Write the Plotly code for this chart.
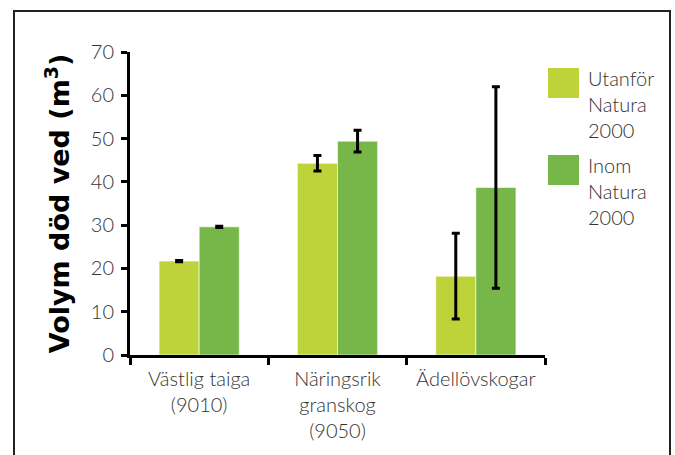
import plotly.graph_objects as go

categories = ["Västlig taiga<br>(9010)", "Näringsrik<br>granskog<br>(9050)", "Ädellövskogar"]
series_names = ["Utanför<br>Natura<br>2000", "Inom<br>Natura<br>2000"]
utanfor = [21.7, 44.3, 18.2]
utanfor_err = [0.15, 1.8, 9.9]
inom = [29.6, 49.4, 38.7]
inom_err = [0.15, 2.5, 23.3]
colors = ["#BED339", "#77B749"]
y_ticks = [0, 10, 20, 30, 40, 50, 60, 70]

fig = go.Figure()
for name, vals, errs, col in [(series_names[0], utanfor, utanfor_err, colors[0]),
                               (series_names[1], inom, inom_err, colors[1])]:
    fig.add_trace(go.Bar(
        x=categories, y=vals, name=name,
        marker=dict(color=col, line=dict(color="rgba(255,255,255,0.6)", width=1)),
        error_y=dict(type="data", array=errs, color="black", thickness=3, width=4),
        showlegend=False,
    ))

tick_font = dict(family="Lato, 'Open Sans', sans-serif", size=20, color="#333333", weight=300)

fig.update_layout(
    width=675, height=455,
    margin=dict(l=130, r=130, t=52, b=100),
    paper_bgcolor="white", plot_bgcolor="white",
    barmode="group", bargap=0.42, bargroupgap=0,
    xaxis=dict(
        type="category", tickson="boundaries", ticks="outside", ticklen=7,
        tickwidth=3, tickcolor="black", showline=True, linecolor="black",
        linewidth=3, showgrid=False, tickfont=tick_font, ticklabelstandoff=4,
        range=[-0.5, 2.5],
    ),
    yaxis=dict(
        range=[0, 70], tickvals=y_ticks, ticks="outside", ticklen=6,
        tickwidth=3, tickcolor="black", showline=True, linecolor="black",
        linewidth=3, showgrid=False, zeroline=False, ticklabelstandoff=3,
        tickfont=dict(tick_font, size=20),
        title=dict(text="Volym död ved (m<sup>3</sup>)",
                   font=dict(family="DejaVu Sans, sans-serif",
                             size=27, color="black", weight="bold"),
                   standoff=14),
    ),
)

# legend drawn manually with large swatches
leg_y = [(68, 98), (155, 185)]
for i, (name, col) in enumerate(zip(series_names, colors)):
    y0, y1 = leg_y[i]
    fig.add_shape(type="rect", xref="paper", yref="paper",
                  x0=(548 - 130) / 415, x1=(579 - 130) / 415,
                  y0=1 - (y1 - 52) / 303, y1=1 - (y0 - 52) / 303,
                  fillcolor=col, line=dict(width=0))
    fig.add_annotation(xref="paper", yref="paper", x=(586 - 130) / 415,
                       y=1 - (y0 - 4 - 52) / 303, xanchor="left", yanchor="top",
                       text=name, showarrow=False, align="left",
                       font=dict(tick_font, size=20))

# outer frame
fig.add_shape(type="rect", xref="paper", yref="paper",
              x0=(14 - 130) / 415, x1=(670 - 130) / 415,
              y0=1 - (470 - 52) / 303, y1=1 - (11 - 52) / 303,
              line=dict(color="#222222", width=2), fillcolor="rgba(0,0,0,0)",
              layer="below")

fig.write_html("out.html", config={"displayModeBar": False},
               post_script="document.body.style.margin='0';document.body.style.overflow='hidden';")
